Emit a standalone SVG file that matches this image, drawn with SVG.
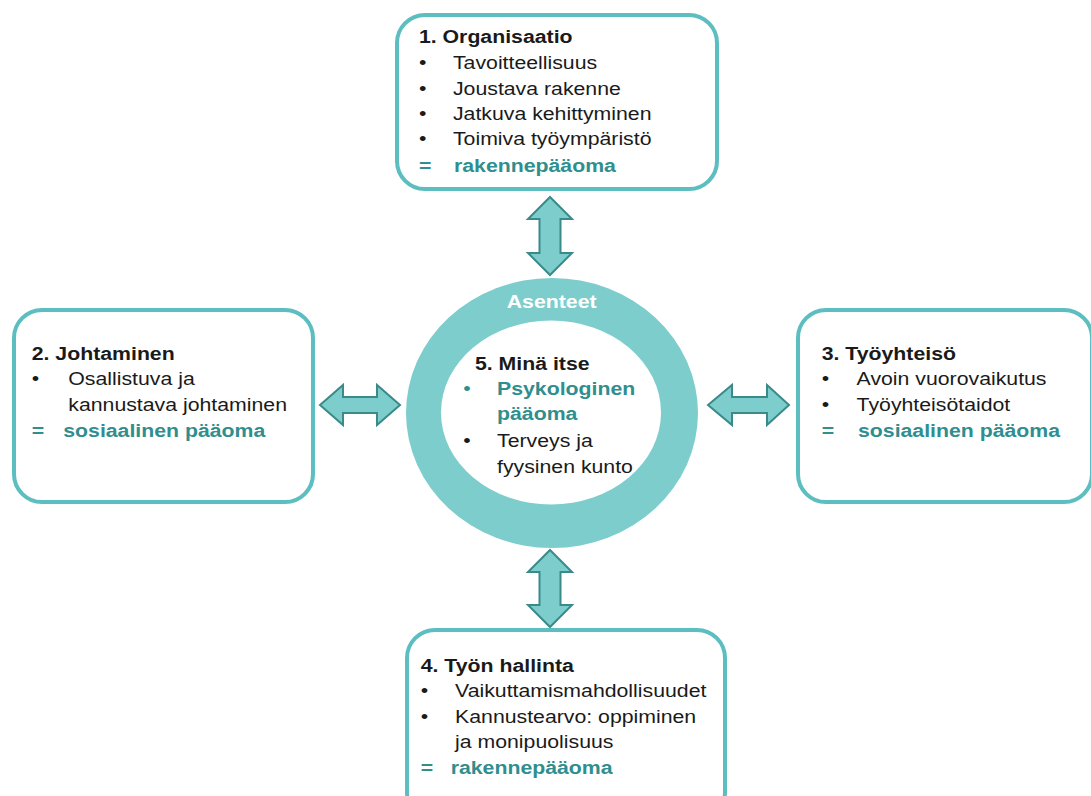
<svg xmlns="http://www.w3.org/2000/svg" width="1091" height="796" viewBox="0 0 1091 796">
<style>
.box{fill:#fff;stroke:#5CBEC0;stroke-width:4}
.arr{fill:#7DCDCD;stroke:#3B8A8A;stroke-width:2;stroke-linejoin:miter}
text{font-family:"Liberation Sans",Arial,sans-serif;font-size:18.5px;fill:#1a1a1a}
.b{font-weight:bold}
.t{fill:#2F8E8E;font-weight:bold}
.w{fill:#fff;font-weight:bold}
</style>
<rect width="1091" height="796" fill="#fff"/>
<g id="connectors">
<polygon class="arr" points="550,197 572,219 560.5,219 560.5,253 572,253 550,275 528,253 539.5,253 539.5,219 528,219"/>
<polygon class="arr" points="550,550 572,572 560.5,572 560.5,605 572,605 550,627 528,605 539.5,605 539.5,572 528,572"/>
<polygon class="arr" points="320,405 343,385 343,397 377,397 377,385 400,405 377,425 377,413 343,413 343,425"/>
<polygon class="arr" points="708,405 732,385 732,397 767,397 767,385 789,405 767,425 767,413 732,413 732,425"/>
</g>
<g id="node1">
<rect class="box" x="397" y="15" width="320" height="174" rx="28"/>
<g transform="scale(1.15 1)">
<text class="b" x="364.3" y="43">1. Organisaatio</text>
<text x="364.3" y="69">•</text><text x="393.9" y="69">Tavoitteellisuus</text>
<text x="364.3" y="95">•</text><text x="393.9" y="95">Joustava rakenne</text>
<text x="364.3" y="120">•</text><text x="393.9" y="120">Jatkuva kehittyminen</text>
<text x="364.3" y="145">•</text><text x="393.9" y="145">Toimiva työympäristö</text>
<text class="t" x="364.3" y="172">=</text><text class="t" x="394.8" y="172">rakennepääoma</text>
</g>
</g>
<g id="node2">
<rect class="box" x="14" y="310" width="299" height="192" rx="28"/>
<g transform="scale(1.15 1)">
<text class="b" x="27.6" y="360">2. Johtaminen</text>
<text x="27.6" y="385">•</text><text x="59.4" y="385">Osallistuva ja</text>
<text x="59.4" y="411">kannustava johtaminen</text>
<text class="t" x="27.6" y="437">=</text><text class="t" x="55" y="437">sosiaalinen pääoma</text>
</g>
</g>
<g id="node3">
<rect class="box" x="798" y="310" width="294" height="192" rx="28"/>
<g transform="scale(1.15 1)">
<text class="b" x="714.5" y="360">3. Työyhteisö</text>
<text x="714.5" y="385">•</text><text x="744.9" y="385">Avoin vuorovaikutus</text>
<text x="714.5" y="411">•</text><text x="744.9" y="411">Työyhteisötaidot</text>
<text class="t" x="714.5" y="437">=</text><text class="t" x="746.1" y="437">sosiaalinen pääoma</text>
</g>
</g>
<g id="node4">
<rect class="box" x="407" y="630" width="318" height="190" rx="28"/>
<g transform="scale(1.15 1)">
<text class="b" x="365.8" y="672">4. Työn hallinta</text>
<text x="365.8" y="697">•</text><text x="395.7" y="697">Vaikuttamismahdollisuudet</text>
<text x="365.8" y="723">•</text><text x="395.7" y="723">Kannustearvo: oppiminen</text>
<text x="395.7" y="748">ja monipuolisuus</text>
<text class="t" x="365.8" y="774">=</text><text class="t" x="391.9" y="774">rakennepääoma</text>
</g>
</g>
<g id="node5">
<ellipse cx="552" cy="413" rx="146" ry="135" fill="#7DCDCD"/>
<ellipse cx="551" cy="412.5" rx="110" ry="92" fill="#fff"/>
<g transform="scale(1.15 1)">
<text class="w" x="479.7" y="308" text-anchor="middle">Asenteet</text>
<text class="b" x="413" y="370">5. Minä itse</text>
<text class="t" x="402.9" y="395" style="font-weight:normal">•</text><text class="t" x="432.2" y="395">Psykologinen</text>
<text class="t" x="432.2" y="420">pääoma</text>
<text x="402.9" y="447">•</text><text x="432.2" y="447">Terveys ja</text>
<text x="432.2" y="473">fyysinen kunto</text>
</g>
</g>
</svg>
